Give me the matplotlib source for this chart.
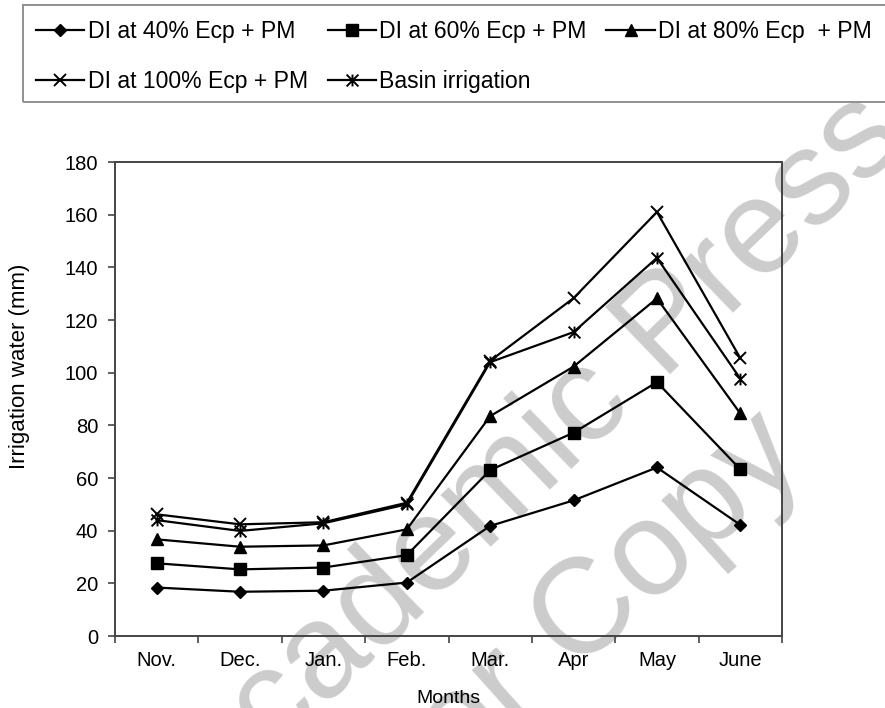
import numpy as np
import matplotlib
matplotlib.use("Agg")
import matplotlib.pyplot as plt
from matplotlib.path import Path
from matplotlib.patches import Rectangle

plt.rcParams['font.family'] = ['Liberation Sans', 'DejaVu Sans']

months = ['Nov.', 'Dec.', 'Jan.', 'Feb.', 'Mar.', 'Apr', 'May', 'June']
di40 = [18.4, 16.8, 17.2, 20.3, 41.8, 51.5, 64.0, 42.2]
di60 = [27.6, 25.3, 26.0, 30.7, 63.0, 77.2, 96.4, 63.3]
di80 = [36.7, 33.9, 34.4, 40.5, 83.5, 102.3, 128.2, 84.5]
di100 = [46.2, 42.4, 43.2, 50.6, 104.5, 128.3, 161.0, 105.5]
basin = [44.0, 39.9, 42.8, 50.0, 104.0, 115.4, 143.6, 97.7]
labels = ['DI at 40% Ecp + PM', 'DI at 60% Ecp + PM', 'DI at 80% Ecp  + PM',
          'DI at 100% Ecp + PM', 'Basin irrigation']

# excel-style star: x with a vertical bar
star = Path([(0, -1), (0, 1), (-1, -1), (1, 1), (-1, 1), (1, -1)],
            [Path.MOVETO, Path.LINETO, Path.MOVETO, Path.LINETO, Path.MOVETO, Path.LINETO])

W, H = 885, 708
fig = plt.figure(figsize=(W / 100, H / 100), dpi=100)
ax = fig.add_axes([115 / W, 1 - 636 / H, (782 - 115) / W, (636 - 162) / H])
ax.set_facecolor('none')

# watermark
wm = '#cccccc'
fig.text(0.605, 0.357, 'Academic Press', fontsize=97, color=wm, rotation=44,
         ha='center', va='center', rotation_mode='anchor', zorder=-1)
fig.text(0.573, 0.028, 'Author Copy', fontsize=97, color=wm, rotation=42,
         ha='center', va='center', rotation_mode='anchor', zorder=-1)

x = np.arange(len(months))
styles = [
    dict(marker='D', ms=6.5),
    dict(marker='s', ms=8),
    dict(marker='^', ms=8.5),
    dict(marker='x', ms=8.5, mew=1.4),
    dict(marker=star, ms=8.5, mew=1.4),
]
series = [di40, di60, di80, di100, basin]
handles = []
for vals, st, lab in zip(series, styles, labels):
    h, = ax.plot(x, vals, color='black', lw=1.6, mfc='black', mec='black',
                 label=lab, **st)
    handles.append(h)

ax.set_xlim(-0.5, len(months) - 0.5)
ax.set_ylim(0, 180)
ax.set_yticks(np.arange(0, 181, 20))
ax.set_xticks(np.arange(-0.5, len(months), 1))
ax.set_xticklabels([])
ax.set_xticks(x, minor=True)
ax.set_xticklabels(months, minor=True)
ax.tick_params(axis='x', which='major', length=5, width=1.2, color='#444444')
ax.tick_params(axis='x', which='minor', length=0, pad=11, labelsize=14.5)
ax.tick_params(axis='y', length=5, width=1.2, color='#444444', pad=7, labelsize=14.5)
for sp in ax.spines.values():
    sp.set_color('#444444')
    sp.set_linewidth(1.4)

ax.set_xlabel('Months', fontsize=14)
ax.xaxis.set_label_coords(0.5, -0.113)
ax.text(-0.143, 0.57, 'Irrigation water (mm)', transform=ax.transAxes,
        rotation=90, ha='center', va='center', fontsize=16)

# legend box, running off the right edge like the original
fig.patches.append(Rectangle((23 / W, 1 - 102 / H), (W + 20) / W, 97 / H,
                             transform=fig.transFigure, fill=False,
                             edgecolor='#888888', lw=1.3))
order = [0, 3, 1, 4, 2]
fig.legend([handles[i] for i in order], [labels[i] for i in order],
           ncol=3, loc='upper left', bbox_to_anchor=(36 / W, 1 - 20 / H),
           frameon=False, fontsize=16.6, handlelength=2.1, handletextpad=0.15,
           columnspacing=0.85, labelspacing=1.19, borderpad=0, borderaxespad=0)

fig.savefig('out.png', dpi=100)
